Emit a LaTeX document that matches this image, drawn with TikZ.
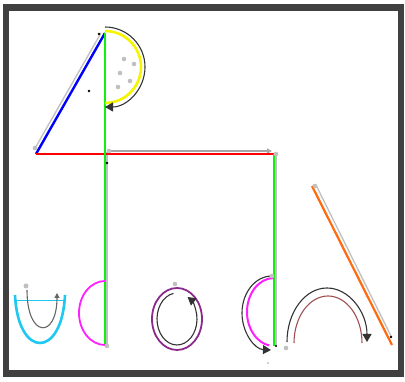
\documentclass[tikz,border=0pt]{standalone}
\usetikzlibrary{arrows.meta}
\definecolor{framegray}{HTML}{404040}
\definecolor{grn}{HTML}{10F010}
\definecolor{yel}{HTML}{F5F500}
\definecolor{cyn}{HTML}{1EC8F0}
\definecolor{mag}{HTML}{FF20FF}
\definecolor{prp}{HTML}{8A2A8A}
\definecolor{brn}{HTML}{A05050}
\definecolor{org}{HTML}{FF6A10}
\definecolor{ltg}{HTML}{C0C0C0}
\tikzset{
  gdot/.style={fill=ltg,draw=none},
  bdot/.style={fill=black,draw=none},
  shade/.style={draw=ltg,line width=1.3pt},
  arr/.style={-{Triangle[length=8pt,width=9pt]}},
  sarr/.style={-{Triangle[length=5pt,width=5pt]}},
}
\begin{document}
\begin{tikzpicture}[x=1pt,y=-1pt]
\useasboundingbox (0,0) rectangle (405,382);
\fill[white] (0,0) rectangle (405,382);
\draw[framegray,line width=6.8pt] (6,7.5) rectangle (401,373.5);

% named points
\coordinate (A) at (36,154);
\coordinate (T) at (105,33);
\coordinate (B) at (105,346);
\coordinate (R) at (274,154);
\coordinate (RB) at (274,346);

% gray shadow lines
\draw[shade] (34,150) -- (101,33);
\draw[shade] (107,152) -- (107,346);
\draw[shade] (276,154) -- (276,346);
\draw[shade,draw=gray!70,sarr] (108,151) -- (272,151);
\draw[shade] (316,185) -- (391,336);

% main lines
\draw[blue,line width=2.4pt] (A) -- (T);
\draw[red,line width=2.6pt] (A) -- (R);
\draw[grn,line width=2.6pt] (T) -- (B);
\draw[grn,line width=2.6pt] (R) -- (RB);
\draw[org,line width=2.2pt] (312,186) -- (392,345);

% semicircle with seeds
\draw[yel,line width=2.6pt] (105,31) arc[start angle=-90,end angle=90,radius=36];
\draw[black!80,line width=1.1pt,arr] (105,27) arc[start angle=-90,end angle=90,radius=40];
\foreach \p in {(124,59),(134,64),(120,73),(130,81),(118,87)}
  \fill[gdot] \p circle (2.3);

% bowl
\draw[cyn,line width=2.6pt] (15,295) .. controls (18,359) and (62,359) .. (65,295);
\draw[cyn,line width=0.8pt] (16,300) -- (64,300);
\draw[black!60,line width=1.1pt,sarr] (27,290) .. controls (27,339) and (57,339) .. (57,293);

% left magenta half
\draw[mag,line width=1.8pt] (105,281) arc[start angle=-90,end angle=-270,x radius=26,y radius=32];

% purple ellipse
\draw[prp,line width=1.8pt] (177,319) ellipse[x radius=25,y radius=31];
\draw[black!80,line width=1.1pt,arr] (177,319) ++(-100:20 and 26) arc[start angle=-100,end angle=-418,x radius=20,y radius=26];

% right magenta half
\draw[black!80,line width=1.1pt,arr] (272,276) arc[start angle=-90,end angle=-268,x radius=30,y radius=37];
\draw[mag,line width=2pt] (274,278) arc[start angle=-90,end angle=-260,x radius=27,y radius=34];

% arch
\draw[brn,line width=1.1pt] (294,343) arc[start angle=180,end angle=360,x radius=34,y radius=47];
\draw[black!80,line width=1.1pt,arr] (287,342) arc[start angle=180,end angle=360,x radius=40,y radius=54];

% dots
\fill[gdot] (35,148) circle (2.3);
\fill[gdot] (109,151) circle (2.3);
\fill[gdot] (107,346) circle (2.3);
\fill[gdot] (26,286) circle (2.5);
\fill[gdot] (175,284) circle (2.3);
\fill[gdot] (272,276) circle (2.3);
\fill[gdot] (276,154) circle (2.3);
\fill[gdot] (315,186) circle (2.3);
\fill[gdot] (286,348) circle (2.3);
\fill[gdot] (268,363) circle (1.2);
\fill[bdot] (99,34) circle (1.3);
\fill[bdot] (89,91) circle (1.3);
\fill[bdot] (107,163) circle (1.3);
\fill[bdot] (391,337) circle (1.4);
\fill[bdot] (276,346) circle (1.2);
\end{tikzpicture}
\end{document}
